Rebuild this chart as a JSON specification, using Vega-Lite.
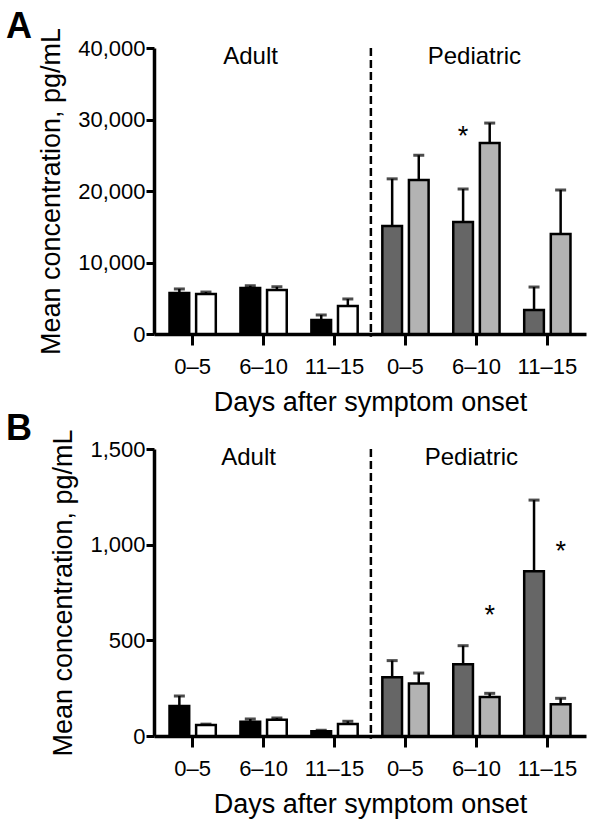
{
  "$schema": "https://vega.github.io/schema/vega-lite/v6.json",
  "background": "white",
  "padding": {"left": 6, "top": 9, "right": 5, "bottom": 5},
  "spacing": -5,
  "config": {
    "font": "Liberation Sans",
    "view": {"stroke": null},
    "axis": {
      "domainColor": "black", "domainWidth": 3.5, "tickColor": "black", "tickWidth": 3, "tickSize": 9,
      "labelColor": "black", "labelFont": "Liberation Sans", "labelFontSize": 22,
      "titleFont": "Liberation Sans", "titleFontSize": 27, "titleFontWeight": "normal", "titleColor": "black",
      "grid": false
    },
    "text": {"font": "Liberation Sans", "fontSize": 24, "color": "black"}
  },
  "datasets": {
    "a": [
      {"slot": "Adult 0–5", "sub": "1", "kind": "Adult 1", "mean": 5750, "upper": 6300},
      {"slot": "Adult 0–5", "sub": "2", "kind": "Adult 2", "mean": 5600, "upper": 5870},
      {"slot": "Adult 6–10", "sub": "1", "kind": "Adult 1", "mean": 6430, "upper": 6750},
      {"slot": "Adult 6–10", "sub": "2", "kind": "Adult 2", "mean": 6150, "upper": 6600},
      {"slot": "Adult 11–15", "sub": "1", "kind": "Adult 1", "mean": 1960, "upper": 2660},
      {"slot": "Adult 11–15", "sub": "2", "kind": "Adult 2", "mean": 3900, "upper": 4900},
      {"slot": "Pediatric 0–5", "sub": "1", "kind": "Pediatric 1", "mean": 15100, "upper": 21700},
      {"slot": "Pediatric 0–5", "sub": "2", "kind": "Pediatric 2", "mean": 21540, "upper": 25000},
      {"slot": "Pediatric 6–10", "sub": "1", "kind": "Pediatric 1", "mean": 15660, "upper": 20280},
      {"slot": "Pediatric 6–10", "sub": "2", "kind": "Pediatric 2", "mean": 26700, "upper": 29500},
      {"slot": "Pediatric 11–15", "sub": "1", "kind": "Pediatric 1", "mean": 3360, "upper": 6570},
      {"slot": "Pediatric 11–15", "sub": "2", "kind": "Pediatric 2", "mean": 14000, "upper": 20140}
    ],
    "b": [
      {"slot": "Adult 0–5", "sub": "1", "kind": "Adult 1", "mean": 157, "upper": 209},
      {"slot": "Adult 0–5", "sub": "2", "kind": "Adult 2", "mean": 57, "upper": 62},
      {"slot": "Adult 6–10", "sub": "1", "kind": "Adult 1", "mean": 75, "upper": 89},
      {"slot": "Adult 6–10", "sub": "2", "kind": "Adult 2", "mean": 85, "upper": 94},
      {"slot": "Adult 11–15", "sub": "1", "kind": "Adult 1", "mean": 25, "upper": 30},
      {"slot": "Adult 11–15", "sub": "2", "kind": "Adult 2", "mean": 63, "upper": 77},
      {"slot": "Pediatric 0–5", "sub": "1", "kind": "Pediatric 1", "mean": 307, "upper": 394},
      {"slot": "Pediatric 0–5", "sub": "2", "kind": "Pediatric 2", "mean": 275, "upper": 329},
      {"slot": "Pediatric 6–10", "sub": "1", "kind": "Pediatric 1", "mean": 375, "upper": 472},
      {"slot": "Pediatric 6–10", "sub": "2", "kind": "Pediatric 2", "mean": 204, "upper": 223},
      {"slot": "Pediatric 11–15", "sub": "1", "kind": "Pediatric 1", "mean": 861, "upper": 1233},
      {"slot": "Pediatric 11–15", "sub": "2", "kind": "Pediatric 2", "mean": 166, "upper": 197}
    ],
    "a_labels": [
      {"slot": "Adult 6–10", "y": 37760, "label": "Adult"},
      {"slot": "Pediatric 6–10", "y": 37760, "label": "Pediatric"}
    ],
    "b_labels": [
      {"slot": "Adult 6–10", "y": 1416, "label": "Adult"},
      {"slot": "Pediatric 6–10", "y": 1416, "label": "Pediatric"}
    ],
    "a_stars": [
      {"slot": "Pediatric 6–10", "sub": "1", "y": 26500, "label": "*"}
    ],
    "b_stars": [
      {"slot": "Pediatric 6–10", "sub": "2", "y": 585, "label": "*"},
      {"slot": "Pediatric 11–15", "sub": "2", "y": 920, "label": "*"}
    ]
  },
  "vconcat": [
    {
      "width": 432,
      "height": 286,
      "title": {"text": "A", "anchor": "start", "frame": "group", "dx": -148, "offset": -19, "fontSize": 36, "fontWeight": "bold", "font": "Liberation Sans", "color": "black"},
      "encoding": {
        "x": {
          "field": "slot", "type": "nominal",
          "scale": {"domain": ["Adult 0–5", "Adult 6–10", "Adult 11–15", "Pediatric 0–5", "Pediatric 6–10", "Pediatric 11–15"], "paddingInner": 0.25, "paddingOuter": 0.17},
          "axis": {"title": "Days after symptom onset", "labelExpr": "split(datum.value, ' ')[1]", "labelAngle": 0, "tickSize": 11, "labelPadding": 11, "titlePadding": 12}
        }
      },
      "layer": [
        {
          "data": {"name": "a"},
          "mark": {"type": "rule", "color": "black", "strokeWidth": 2.5},
          "encoding": {
            "xOffset": {"field": "sub", "type": "nominal", "scale": {"paddingInner": 0.26, "paddingOuter": 0.13}},
            "y": {"field": "mean", "type": "quantitative", "scale": {"domain": [0, 40000]}},
            "y2": {"field": "upper"}
          }
        },
        {
          "data": {"name": "a"},
          "mark": {"type": "tick", "color": "black", "size": 11, "thickness": 3, "orient": "horizontal"},
          "encoding": {
            "xOffset": {"field": "sub", "type": "nominal", "scale": {"paddingInner": 0.26, "paddingOuter": 0.13}},
            "y": {"field": "upper", "type": "quantitative", "scale": {"domain": [0, 40000]}}
          }
        },
        {
          "data": {"name": "a"},
          "mark": {"type": "bar", "stroke": "black", "strokeWidth": 2.5},
          "encoding": {
            "xOffset": {"field": "sub", "type": "nominal", "scale": {"paddingInner": 0.26, "paddingOuter": 0.13}},
            "y": {"field": "mean", "type": "quantitative", "scale": {"domain": [0, 40000]},
              "axis": {"title": "Mean concentration, pg/mL", "values": [0, 10000, 20000, 30000, 40000], "labelExpr": "format(datum.value, ',')", "tickSize": 8, "labelPadding": 1, "titlePadding": 12}},
            "color": {"field": "kind", "type": "nominal", "legend": null,
              "scale": {"domain": ["Adult 1", "Adult 2", "Pediatric 1", "Pediatric 2"], "range": ["#000000", "#ffffff", "#666666", "#b3b3b3"]}}
          }
        },
        {
          "data": {"values": [{"v": 1}]},
          "mark": {"type": "rule", "color": "black", "strokeWidth": 2.5, "strokeDash": [8, 4]},
          "encoding": {
            "x": {"datum": "Pediatric 0–5", "type": "nominal", "bandPosition": -0.15},
            "y": {"datum": 40000, "type": "quantitative", "scale": {"domain": [0, 40000]}},
            "y2": {"datum": -400}
          }
        },
        {
          "data": {"name": "a_labels"},
          "transform": [{"filter": "datum.label == 'Adult'"}],
          "mark": {"type": "text", "baseline": "alphabetic", "align": "center", "dx": -13},
          "encoding": {
            "y": {"field": "y", "type": "quantitative", "scale": {"domain": [0, 40000]}},
            "text": {"field": "label"}
          }
        },
        {
          "data": {"name": "a_labels"},
          "transform": [{"filter": "datum.label == 'Pediatric'"}],
          "mark": {"type": "text", "baseline": "alphabetic", "align": "center", "dx": -2},
          "encoding": {
            "y": {"field": "y", "type": "quantitative", "scale": {"domain": [0, 40000]}},
            "text": {"field": "label"}
          }
        },
        {
          "data": {"name": "a_stars"},
          "mark": {"type": "text", "baseline": "alphabetic", "align": "center", "fontSize": 27},
          "encoding": {
            "xOffset": {"field": "sub", "type": "nominal", "scale": {"paddingInner": 0.26, "paddingOuter": 0.13}},
            "y": {"field": "y", "type": "quantitative", "scale": {"domain": [0, 40000]}},
            "text": {"field": "label"}
          }
        }
      ]
    },
    {
      "width": 432,
      "height": 287,
      "title": {"text": "B", "anchor": "start", "frame": "group", "dx": -148, "offset": -19, "fontSize": 36, "fontWeight": "bold", "font": "Liberation Sans", "color": "black"},
      "encoding": {
        "x": {
          "field": "slot", "type": "nominal",
          "scale": {"domain": ["Adult 0–5", "Adult 6–10", "Adult 11–15", "Pediatric 0–5", "Pediatric 6–10", "Pediatric 11–15"], "paddingInner": 0.25, "paddingOuter": 0.17},
          "axis": {"title": "Days after symptom onset", "labelExpr": "split(datum.value, ' ')[1]", "labelAngle": 0, "tickSize": 11, "labelPadding": 11, "titlePadding": 12}
        }
      },
      "layer": [
        {
          "data": {"name": "b"},
          "mark": {"type": "rule", "color": "black", "strokeWidth": 2.5},
          "encoding": {
            "xOffset": {"field": "sub", "type": "nominal", "scale": {"paddingInner": 0.26, "paddingOuter": 0.13}},
            "y": {"field": "mean", "type": "quantitative", "scale": {"domain": [0, 1500]}},
            "y2": {"field": "upper"}
          }
        },
        {
          "data": {"name": "b"},
          "mark": {"type": "tick", "color": "black", "size": 11, "thickness": 3, "orient": "horizontal"},
          "encoding": {
            "xOffset": {"field": "sub", "type": "nominal", "scale": {"paddingInner": 0.26, "paddingOuter": 0.13}},
            "y": {"field": "upper", "type": "quantitative", "scale": {"domain": [0, 1500]}}
          }
        },
        {
          "data": {"name": "b"},
          "mark": {"type": "bar", "stroke": "black", "strokeWidth": 2.5},
          "encoding": {
            "xOffset": {"field": "sub", "type": "nominal", "scale": {"paddingInner": 0.26, "paddingOuter": 0.13}},
            "y": {"field": "mean", "type": "quantitative", "scale": {"domain": [0, 1500]},
              "axis": {"title": "Mean concentration, pg/mL", "values": [0, 500, 1000, 1500], "labelExpr": "format(datum.value, ',')", "tickSize": 8, "labelPadding": 1, "titlePadding": 12}},
            "color": {"field": "kind", "type": "nominal", "legend": null,
              "scale": {"domain": ["Adult 1", "Adult 2", "Pediatric 1", "Pediatric 2"], "range": ["#000000", "#ffffff", "#666666", "#b3b3b3"]}}
          }
        },
        {
          "data": {"values": [{"v": 1}]},
          "mark": {"type": "rule", "color": "black", "strokeWidth": 2.5, "strokeDash": [8, 4]},
          "encoding": {
            "x": {"datum": "Pediatric 0–5", "type": "nominal", "bandPosition": -0.15},
            "y": {"datum": 1500, "type": "quantitative", "scale": {"domain": [0, 1500]}},
            "y2": {"datum": -15}
          }
        },
        {
          "data": {"name": "b_labels"},
          "transform": [{"filter": "datum.label == 'Adult'"}],
          "mark": {"type": "text", "baseline": "alphabetic", "align": "center", "dx": -15},
          "encoding": {
            "y": {"field": "y", "type": "quantitative", "scale": {"domain": [0, 1500]}},
            "text": {"field": "label"}
          }
        },
        {
          "data": {"name": "b_labels"},
          "transform": [{"filter": "datum.label == 'Pediatric'"}],
          "mark": {"type": "text", "baseline": "alphabetic", "align": "center", "dx": -5},
          "encoding": {
            "y": {"field": "y", "type": "quantitative", "scale": {"domain": [0, 1500]}},
            "text": {"field": "label"}
          }
        },
        {
          "data": {"name": "b_stars"},
          "mark": {"type": "text", "baseline": "alphabetic", "align": "center", "fontSize": 27},
          "encoding": {
            "xOffset": {"field": "sub", "type": "nominal", "scale": {"paddingInner": 0.26, "paddingOuter": 0.13}},
            "y": {"field": "y", "type": "quantitative", "scale": {"domain": [0, 1500]}},
            "text": {"field": "label"}
          }
        }
      ]
    }
  ]
}
